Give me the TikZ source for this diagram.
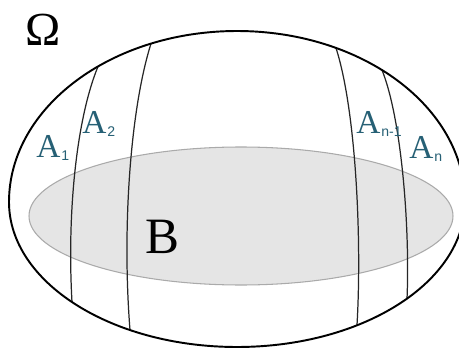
\documentclass[tikz,border=0pt]{standalone}
\usepackage{fontspec}
\setmainfont{Liberation Serif}
\setsansfont{Liberation Sans}
\definecolor{LabelColor}{RGB}{38,96,117}
\definecolor{SetFill}{RGB}{229,229,229}
\definecolor{SetEdge}{RGB}{170,170,170}
\usepackage{tikz}
\tikzset{
  part/.style={line width=0.7pt, black!85},
  partlabel/.style={anchor=base west, inner sep=0pt, text=LabelColor, font=\fontsize{19}{21}\selectfont}
}
\newcommand{\partsub}[1]{\kern0.5pt\raisebox{-2pt}{\fontsize{8}{9}\selectfont\sffamily #1}}

\begin{document}
\begin{tikzpicture}[scale=0.02]
          \clip (0,0) rectangle (459,347);
          \fill[white] (0,0) rectangle (459,347);

          % event B
          \draw[fill=SetFill, draw=SetEdge, line width=0.6pt] (241,131) ellipse [x radius=212, y radius=69];

          % partition lines
          \draw[part] (98,280.5) .. controls (76,227) and (67,132) .. (72,45);
          \draw[part] (151,303.4) .. controls (130,237) and (122,117) .. (130,17);
          \draw[part] (336,299) .. controls (356,237) and (362,107) .. (357,22);
          \draw[part] (382,277) .. controls (402,227) and (410,117) .. (407,48);

          % sample space
          \draw[line width=1.1pt] (9,145) arc [start angle=180, end angle=0, x radius=228, y radius=171]
            arc [start angle=0, end angle=-180, x radius=228, y radius=145];

          % labels
          \node[anchor=base west, inner sep=0pt, font=\fontsize{27}{30}\selectfont] (omega) at (25,302) {Ω};
          \node[anchor=base west, inner sep=0pt, font=\fontsize{29}{32}\selectfont] (setB) at (145,94) {B};
          \node[partlabel] (a1) at (36,190) {A\partsub{1}};
          \node[partlabel] (a2) at (82,214) {A\partsub{2}};
          \node[partlabel] (anm) at (356,214) {A\partsub{n-1}};
          \node[partlabel] (an) at (409,189) {A\partsub{n}};
        \end{tikzpicture}
\end{document}
